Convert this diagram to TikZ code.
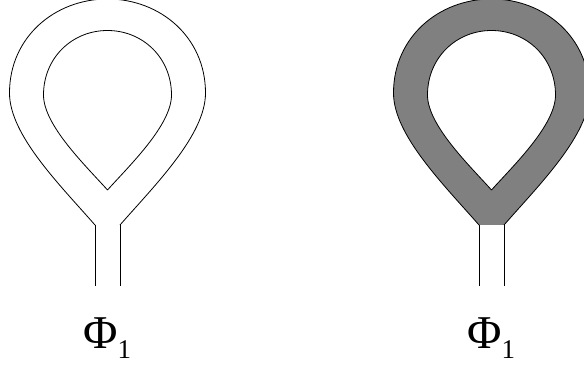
\documentclass[tikz,border=0pt]{standalone}
\usepackage{fontspec}
\setmainfont{Liberation Serif}
\newcommand{\outerloop}{(95,225) .. controls (60,185) and (9.5,135) .. (9.5,93)
  .. controls (9.5,37) and (55,-1) .. (107.5,-1)
  .. controls (160,-1) and (205.5,37) .. (205.5,93)
  .. controls (205.5,135) and (155,185) .. (120,225)}
\newcommand{\innerloop}{(107.5,190) .. controls (85,165) and (43.5,125) .. (43.5,95)
  .. controls (43.5,58) and (72,30.5) .. (107.5,30.5)
  .. controls (143,30.5) and (171.5,58) .. (171.5,95)
  .. controls (171.5,125) and (130,165) .. (107.5,190)}
\begin{document}
\begin{tikzpicture}[x=1pt,y=-1pt,
    wire/.style={draw=black,line width=.8pt},
    ribbon/.style={fill=black!50,even odd rule},
    label/.style={anchor=base west,inner sep=0pt,font=\fontsize{47}{47}\selectfont}]
  \useasboundingbox (0,0) rectangle (584,366);
  \clip (0,0) rectangle (584,366);
  % plain loop
  \draw[wire] \outerloop;
  \draw[wire] \innerloop;
  \draw[wire] (95,225) -- (95,286);
  \draw[wire] (120,225) -- (120,286);
  \node[label] (phiplain) at (83,348)
    {Φ\raisebox{-10pt}{\fontsize{27}{27}\selectfont 1}};
  % shaded loop
  \begin{scope}[xshift=384pt]
    \path[ribbon] \outerloop -- cycle \innerloop -- cycle;
    \draw[wire] \outerloop;
    \draw[wire] \innerloop;
    \draw[wire] (95,225) -- (95,286);
    \draw[wire] (120,225) -- (120,286);
    \node[label] (phishaded) at (83,348)
      {Φ\raisebox{-10pt}{\fontsize{27}{27}\selectfont 1}};
  \end{scope}
\end{tikzpicture}
\end{document}
